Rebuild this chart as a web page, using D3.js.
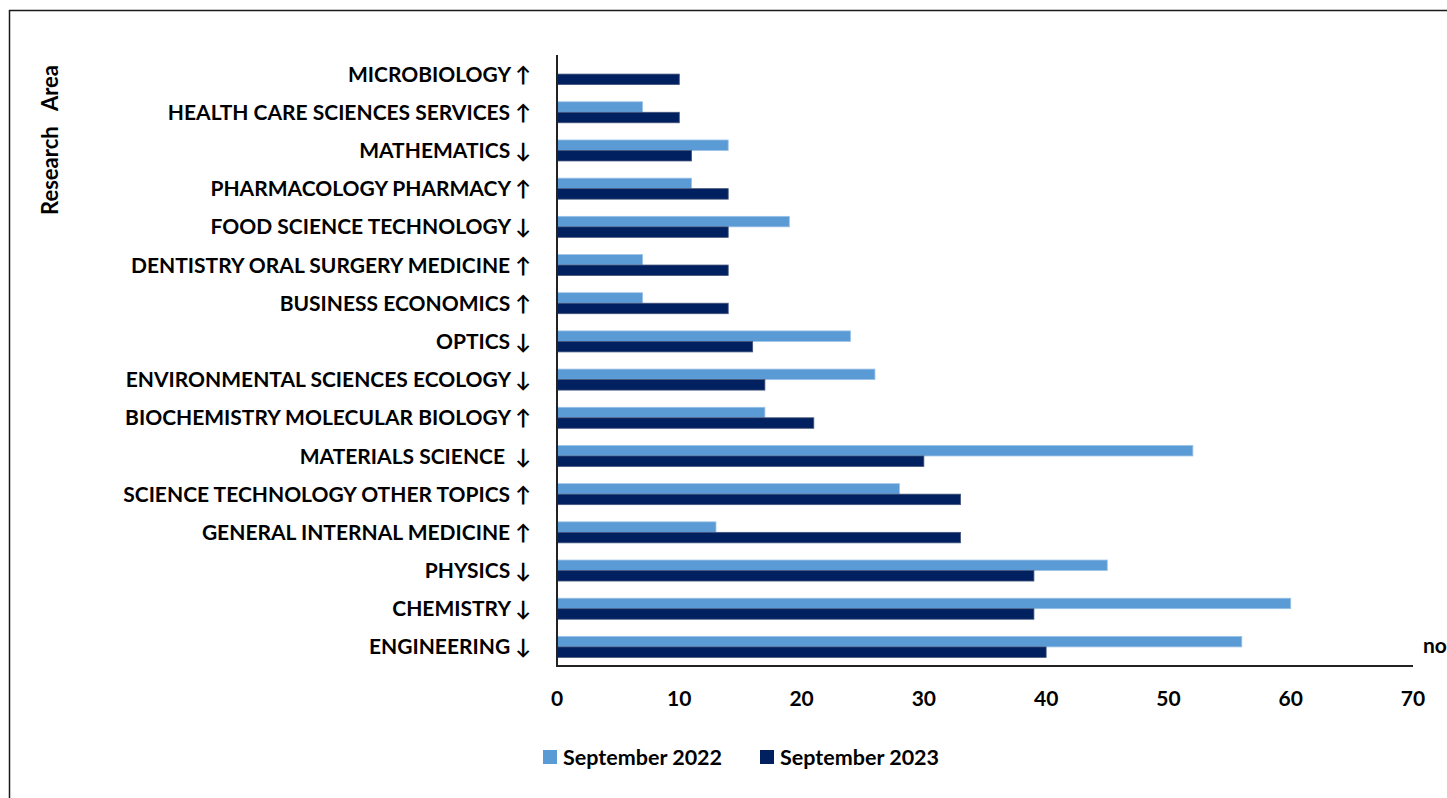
<!DOCTYPE html>
<html>
<head>
<meta charset="utf-8">
<title>Research Area</title>
<style>
    body { margin: 0; background: white; }
    svg { display: block; }
    text { font-family: Lato, "DejaVu Sans", sans-serif; font-weight: bold; fill: #000; }
</style>
</head>
<body>
<svg width="1447" height="798"></svg>
<script src="https://d3js.org/d3.v7.min.js"></script>
<script>
    // categories top to bottom, arrows as in the source labels
    const areas = [
        'MICROBIOLOGY \u2191',
        'HEALTH CARE SCIENCES SERVICES \u2191',
        'MATHEMATICS \u2193',
        'PHARMACOLOGY PHARMACY \u2191',
        'FOOD SCIENCE TECHNOLOGY \u2193',
        'DENTISTRY ORAL SURGERY MEDICINE \u2191',
        'BUSINESS ECONOMICS \u2191',
        'OPTICS \u2193',
        'ENVIRONMENTAL SCIENCES ECOLOGY \u2193',
        'BIOCHEMISTRY MOLECULAR BIOLOGY \u2191',
        'MATERIALS SCIENCE  \u2193',
        'SCIENCE TECHNOLOGY OTHER TOPICS \u2191',
        'GENERAL INTERNAL MEDICINE \u2191',
        'PHYSICS \u2193',
        'CHEMISTRY \u2193',
        'ENGINEERING \u2193'
    ];
    const sep2022 = [0, 7, 14, 11, 19, 7, 7, 24, 26, 17, 52, 28, 13, 45, 60, 56];
    const sep2023 = [10, 10, 11, 14, 14, 14, 14, 16, 17, 21, 30, 33, 33, 39, 39, 40];
    const seriesNames = ['September 2022', 'September 2023'];
    const colors = ['#5b9bd5', '#002060'];
    const xTicks = [0, 10, 20, 30, 40, 50, 60, 70];

    const svg = d3.select('svg');

    // outer chart border (right and bottom run off the page)
    svg.append('rect')
        .attr('x', 9.5).attr('y', 10.5)
        .attr('width', 1600).attr('height', 900)
        .attr('fill', 'none')
        .attr('stroke', '#1a1a1a')
        .attr('stroke-width', 1.5);

    const plotLeft = 557, plotRight = 1413, plotTop = 55, plotBottom = 666;

    const x = d3.scaleLinear().domain([0, 70]).range([plotLeft, plotRight]);
    const y = d3.scaleBand().domain(areas).range([plotTop, plotBottom]).paddingInner(0.45).paddingOuter(0.225);
    const ySub = d3.scaleBand().domain([0, 1]).range([0, y.bandwidth()]);

    // bars
    const groups = svg.append('g').selectAll('g')
        .data(areas)
        .join('g')
        .attr('transform', d => `translate(0,${y(d)})`);

    groups.selectAll('rect')
        .data((d, i) => [sep2022[i], sep2023[i]].map((v, s) => ({ v, s })))
        .join('rect')
        .attr('x', x(0))
        .attr('y', d => ySub(d.s))
        .attr('width', d => x(d.v) - x(0))
        .attr('height', ySub.bandwidth())
        .attr('fill', d => colors[d.s])
        .attr('stroke', d => d.v > 0 ? (d.s ? '#44557a' : '#9cc3e8') : 'none')
        .attr('stroke-width', 0.8);

    // category labels
    svg.append('g').selectAll('text')
        .data(areas)
        .join('text')
        .attr('x', 531)
        .attr('y', d => y(d) + y.bandwidth() / 2)
        .attr('dy', '0.36em')
        .attr('text-anchor', 'end')
        .style('font-size', '21px')
        .style('white-space', 'pre')
        .text(d => d);

    // x tick labels
    svg.append('g').selectAll('text')
        .data(xTicks)
        .join('text')
        .attr('x', d => x(d))
        .attr('y', 698)
        .attr('dy', '0.36em')
        .attr('text-anchor', 'middle')
        .style('font-size', '21px')
        .text(d => d);

    // axis lines
    svg.append('line')
        .attr('x1', plotLeft).attr('x2', plotLeft)
        .attr('y1', plotTop).attr('y2', plotBottom + 1)
        .attr('stroke', '#222').attr('stroke-width', 2);
    svg.append('line')
        .attr('x1', plotLeft).attr('x2', plotRight)
        .attr('y1', plotBottom).attr('y2', plotBottom)
        .attr('stroke', '#222').attr('stroke-width', 2);

    // axis titles
    svg.append('text')
        .attr('transform', 'translate(50,140) rotate(-90)')
        .attr('dy', '0.36em')
        .attr('text-anchor', 'middle')
        .style('font-size', '22px')
        .style('white-space', 'pre')
        .text('Research   Area');

    svg.append('text')
        .attr('x', 1423)
        .attr('y', 645)
        .attr('dy', '0.36em')
        .style('font-size', '21px')
        .text('no');

    // legend
    const legendX = [543, 760];
    const legend = svg.append('g').selectAll('g')
        .data(seriesNames)
        .join('g')
        .attr('transform', (d, i) => `translate(${legendX[i]},757)`);
    legend.append('rect')
        .attr('x', 0).attr('y', -7)
        .attr('width', 14).attr('height', 14)
        .attr('fill', (d, i) => colors[i]);
    legend.append('text')
        .attr('x', 20)
        .attr('dy', '0.36em')
        .style('font-size', '21.5px')
        .text(d => d);
</script>
</body>
</html>
